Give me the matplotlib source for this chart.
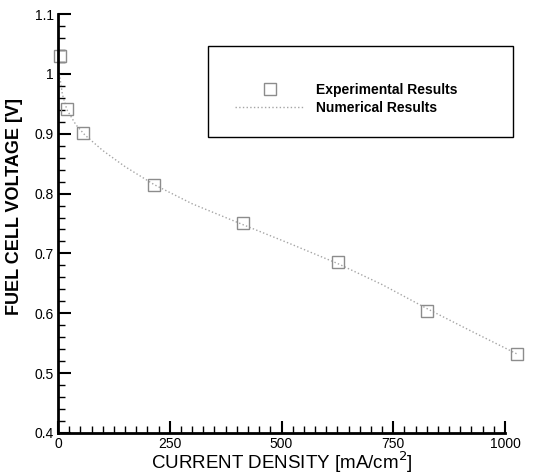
import matplotlib
matplotlib.use('agg')
import matplotlib.pyplot as plt
from matplotlib.patches import Rectangle
from matplotlib.ticker import MultipleLocator, FuncFormatter

plt.rcParams['font.family'] = ['Liberation Sans', 'DejaVu Sans']

# experimental points
exp_current = [5, 20, 56, 215, 414, 626, 825, 1027]
exp_voltage = [1.030, 0.941, 0.901, 0.815, 0.751, 0.686, 0.604, 0.532]

# numerical curve
num_current = [3, 10, 20, 40, 60, 100, 150, 215, 300, 414, 520, 626, 725, 825, 925, 1027]
num_voltage = [1.000, 0.965, 0.940, 0.915, 0.898, 0.872, 0.845, 0.815, 0.783,
               0.748, 0.716, 0.683, 0.648, 0.608, 0.570, 0.532]

fig = plt.figure(figsize=(5.34, 4.76), dpi=100)
ax = fig.add_axes([58 / 534, 1 - 433 / 476, 447 / 534, 419 / 476])

ax.plot(num_current, num_voltage, ls=':', c='#a5a5a5', lw=1.0,
        label='Numerical Results', clip_on=False)
ax.plot(exp_current, exp_voltage, ls='none', marker='s', ms=8, mfc='none',
        mec='#8c8c8c', mew=1.0, label='Experimental Results', clip_on=False)

ax.set_xlim(0, 1000)
ax.set_ylim(0.4, 1.1)
ax.xaxis.set_major_locator(MultipleLocator(250))
ax.xaxis.set_minor_locator(MultipleLocator(25))
ax.yaxis.set_major_locator(MultipleLocator(0.1))
ax.yaxis.set_minor_locator(MultipleLocator(0.02))
ax.yaxis.set_major_formatter(FuncFormatter(lambda v, p: '{:g}'.format(round(v, 2))))

for s in ['top', 'right']:
    ax.spines[s].set_visible(False)
for s in ['left', 'bottom']:
    ax.spines[s].set_linewidth(2)
ax.tick_params(which='major', direction='in', length=9, width=1.5, labelsize=10, pad=3)
ax.tick_params(which='minor', direction='in', length=5, width=1)

ax.set_xlabel('CURRENT DENSITY [mA/cm$^2$]', fontsize=13.5, labelpad=-1)
ax.set_ylabel('FUEL CELL VOLTAGE [V]', fontsize=13, fontweight='bold')
ax.yaxis.set_label_coords(-0.078, 0.54)

# legend box
fig.patches.append(Rectangle((208 / 534, 1 - 137 / 476), 305 / 534, 91 / 476,
                             transform=fig.transFigure, fill=False, ec='black', lw=1))
h, l = ax.get_legend_handles_labels()
leg = fig.legend(h[::-1], l[::-1], loc='upper left',
                 bbox_to_anchor=(228 / 534, 1 - 76 / 476), frameon=False,
                 prop={'weight': 'bold', 'size': 10}, handlelength=5,
                 labelspacing=0.3, handletextpad=0.8, borderpad=0)

fig.savefig('out.png', dpi=100)
